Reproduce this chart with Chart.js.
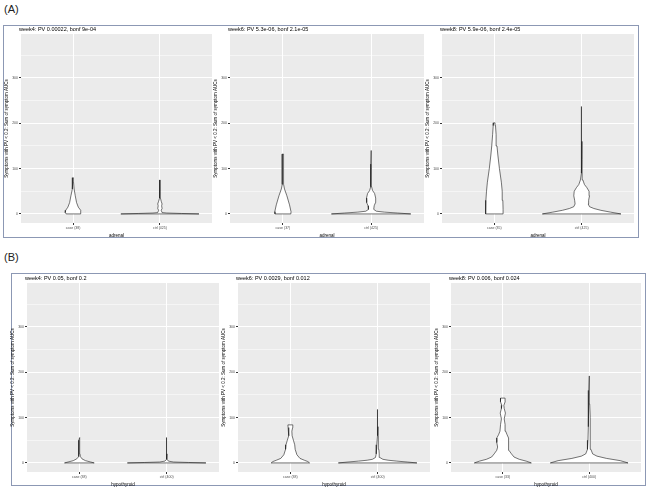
<!DOCTYPE html>
<html>
<head>
<meta charset="utf-8">
<script src="https://cdn.jsdelivr.net/npm/chart.js@4.4.1/dist/chart.umd.min.js"></script>
<style>
  body { margin: 0; background: #fff; width: 649px; height: 488px; position: relative; overflow: hidden; font-family: "Liberation Sans", Arial, sans-serif; }
  .panel-box { position: absolute; border: 1.5px solid #8C98B4; box-sizing: border-box; }
  .panel-tag { position: absolute; font-size: 11px; color: #222; }
  canvas { position: absolute; }
</style>
</head>
<body>
<div class="panel-tag" style="left:4px;top:3px">(A)</div>
<div class="panel-box" style="left:3px;top:25px;width:636px;height:213px"></div>
<div class="panel-tag" style="left:4px;top:251px">(B)</div>
<div class="panel-box" style="left:11px;top:273px;width:635px;height:213px"></div>
<canvas id="a1"></canvas>
<canvas id="a2"></canvas>
<canvas id="a3"></canvas>
<canvas id="b1"></canvas>
<canvas id="b2"></canvas>
<canvas id="b3"></canvas>
<script>
// Chart data
const panelTitles = [
    'week4: PV 0.00022, bonf 9e-04',
    'week6: PV 5.3e-06, bonf 2.1e-05',
    'week8: PV 5.9e-06, bonf 2.4e-05',
    'week4: PV 0.05, bonf 0.2',
    'week6: PV 0.0029, bonf 0.012',
    'week8: PV 0.006, bonf 0.024'
];
const groupLabels = [
    ['case (38)', 'ctrl (425)'],
    ['case (37)', 'ctrl (425)'],
    ['case (35)', 'ctrl (425)'],
    ['case (38)', 'ctrl (400)'],
    ['case (38)', 'ctrl (400)'],
    ['case (33)', 'ctrl (400)']
];
const xTitles = ['adrenal', 'adrenal', 'adrenal', 'hypothyroid', 'hypothyroid', 'hypothyroid'];
const yTitle = 'Symptoms with PV < 0.2: Sum of symptom AUCs';
const yTickValues = [0, 100, 200, 300];
const yMinorValues = [50, 150, 250, 350];

// violin profiles: [value, half width in category units]
const a1Case = [[0, 0.08], [3, 0.09], [8, 0.085], [15, 0.06], [25, 0.04], [40, 0.025], [55, 0.012], [70, 0.005], [80, 0.002]];
const a1Ctrl = [[0, 0.45], [1, 0.25], [2, 0.08], [3, 0.025], [8, 0.015], [12, 0.025], [18, 0.02], [22, 0.025], [28, 0.015], [35, 0.006], [50, 0.004], [75, 0.001]];
const a2Case = [[0, 0.09], [5, 0.092], [20, 0.075], [40, 0.045], [55, 0.018], [65, 0.008], [100, 0.006], [128, 0.008], [132, 0.008]];
const a2Ctrl = [[0, 0.45], [2, 0.3], [4, 0.15], [6, 0.06], [10, 0.03], [18, 0.035], [25, 0.05], [35, 0.052], [45, 0.04], [52, 0.016], [60, 0.006], [80, 0.003], [110, 0.002], [140, 0.001]];
const a3Case = [[0, 0.1], [10, 0.1], [30, 0.097], [50, 0.09], [70, 0.08], [100, 0.058], [130, 0.04], [150, 0.03], [175, 0.02], [195, 0.013], [201, 0.008]];
const a3Ctrl = [[0, 0.45], [4, 0.33], [8, 0.22], [12, 0.14], [16, 0.09], [22, 0.075], [30, 0.08], [40, 0.09], [50, 0.085], [58, 0.06], [65, 0.032], [75, 0.014], [90, 0.007], [120, 0.005], [160, 0.004], [200, 0.003], [237, 0.001]];
const b1Case = [[0, 0.17], [2, 0.13], [5, 0.07], [9, 0.03], [14, 0.012], [20, 0.007], [30, 0.005], [40, 0.007], [50, 0.006], [56, 0.004]];
const b1Ctrl = [[0, 0.45], [1, 0.25], [2, 0.08], [4, 0.02], [8, 0.006], [20, 0.004], [35, 0.004], [50, 0.003], [56, 0.001]];
const b2Case = [[0, 0.22], [3, 0.2], [6, 0.16], [10, 0.11], [18, 0.075], [30, 0.055], [40, 0.05], [50, 0.035], [60, 0.02], [70, 0.017], [78, 0.026], [84, 0.028]];
const b2Ctrl = [[0, 0.45], [2, 0.34], [4, 0.22], [6, 0.12], [8, 0.06], [12, 0.025], [20, 0.018], [30, 0.014], [40, 0.01], [60, 0.006], [80, 0.004], [100, 0.003], [118, 0.001]];
const b3Case = [[0, 0.33], [4, 0.27], [8, 0.19], [13, 0.13], [20, 0.1], [28, 0.07], [35, 0.06], [45, 0.07], [55, 0.07], [62, 0.05], [70, 0.033], [85, 0.026], [97, 0.016], [110, 0.03], [120, 0.016], [127, 0.012], [135, 0.027], [143, 0.026]];
const b3Ctrl = [[0, 0.45], [5, 0.36], [10, 0.2], [15, 0.09], [20, 0.04], [30, 0.02], [50, 0.014], [80, 0.011], [100, 0.012], [130, 0.006], [160, 0.004], [192, 0.001]];

const violins = [
    [a1Case, a1Ctrl], [a2Case, a2Ctrl], [a3Case, a3Ctrl],
    [b1Case, b1Ctrl], [b2Case, b2Ctrl], [b3Case, b3Ctrl]
];

// plot areas on the page: left, top, right, bottom
const plotAreas = [
    [21, 34, 212, 223], [230, 34, 424, 223], [442, 34, 634, 223],
    [27, 283, 219, 472], [238, 283, 430, 472], [451, 283, 641, 472]
];
const canvasIds = ['a1', 'a2', 'a3', 'b1', 'b2', 'b3'];

const FONT = '"Liberation Sans", Arial, Helvetica, sans-serif';
const Y_AXIS_W = 17;
const X_AXIS_H = 15;
const TITLE_H = 10;

// grey ggplot panel
const panelBg = {
    id: 'panelBg',
    beforeDraw(chart) {
        const { ctx, chartArea: a } = chart;
        ctx.save();
        ctx.fillStyle = '#EBEBEB';
        ctx.fillRect(a.left, a.top, a.width, a.height);
        ctx.restore();
    }
};

// left aligned title over the panel
const panelTitle = {
    id: 'panelTitle',
    afterDraw(chart, args, opts) {
        const { ctx, chartArea: a } = chart;
        ctx.save();
        ctx.font = '5.5px ' + FONT;
        ctx.fillStyle = '#000';
        ctx.textBaseline = 'bottom';
        ctx.fillText(opts.text, a.left - 2, a.top - 1.5);
        ctx.restore();
    }
};

function violinPoints(profile, center) {
    const right = profile.map(([v, w]) => ({ x: center + w, y: v }));
    const left = profile.slice().reverse().map(([v, w]) => ({ x: center - w, y: v }));
    const pts = right.concat(left);
    pts.push(right[0]);
    return pts;
}

plotAreas.forEach((area, i) => {
    const [l, t, r, b] = area;
    const canvas = document.getElementById(canvasIds[i]);
    const w = r - l + Y_AXIS_W + 1;
    const h = b - t + TITLE_H + X_AXIS_H;
    canvas.width = w;
    canvas.height = h;
    canvas.style.left = (l - Y_AXIS_W) + 'px';
    canvas.style.top = (t - TITLE_H) + 'px';

    const labels = groupLabels[i];
    const datasets = violins[i].map((profile, k) => ({
        data: violinPoints(profile, k + 1),
        borderColor: '#1a1a1a',
        borderWidth: 0.6,
        backgroundColor: '#fff',
        fill: 'shape',
        pointRadius: 0,
        tension: 0
    }));

    new Chart(canvas.getContext('2d'), {
        type: 'line',
        data: { datasets },
        plugins: [panelBg, panelTitle],
        options: {
            responsive: false,
            animation: false,
            layout: { padding: { left: 0, top: TITLE_H, right: 1, bottom: 0 } },
            plugins: {
                legend: { display: false },
                tooltip: { enabled: false },
                panelTitle: { text: panelTitles[i] }
            },
            scales: {
                x: {
                    type: 'linear',
                    min: 0.4,
                    max: 2.6,
                    afterBuildTicks: scale => { scale.ticks = [{ value: 1 }, { value: 2 }]; },
                    afterFit: scale => { scale.height = X_AXIS_H; },
                    border: { display: false },
                    grid: {
                        color: '#fff',
                        lineWidth: 1,
                        tickColor: '#333',
                        tickLength: 2
                    },
                    ticks: {
                        autoSkip: false,
                        maxRotation: 0,
                        padding: 1,
                        color: '#4D4D4D',
                        font: { family: FONT, size: 3.5 },
                        callback: v => labels[v - 1]
                    },
                    title: {
                        display: true,
                        text: xTitles[i],
                        color: '#000',
                        padding: 0,
                        font: { family: FONT, size: 4.5 }
                    }
                },
                y: {
                    min: -20,
                    max: 397,
                    afterBuildTicks: scale => {
                        scale.ticks = yTickValues.concat(yMinorValues).sort((p, q) => p - q).map(v => ({ value: v }));
                    },
                    afterFit: scale => { scale.width = Y_AXIS_W; },
                    border: { display: false },
                    grid: {
                        color: '#fff',
                        lineWidth: c => (yTickValues.includes(c.tick.value) ? 1 : 0.5),
                        tickColor: c => (yTickValues.includes(c.tick.value) ? '#333' : 'rgba(0,0,0,0)'),
                        tickLength: 2
                    },
                    ticks: {
                        autoSkip: false,
                        padding: 1,
                        color: '#4D4D4D',
                        font: { family: FONT, size: 3.5 },
                        callback: v => (yTickValues.includes(v) ? String(v) : '')
                    },
                    title: {
                        display: true,
                        text: yTitle,
                        color: '#000',
                        padding: 0,
                        font: { family: FONT, size: 4.5 }
                    }
                }
            }
        }
    });
});
</script>
</body>
</html>
